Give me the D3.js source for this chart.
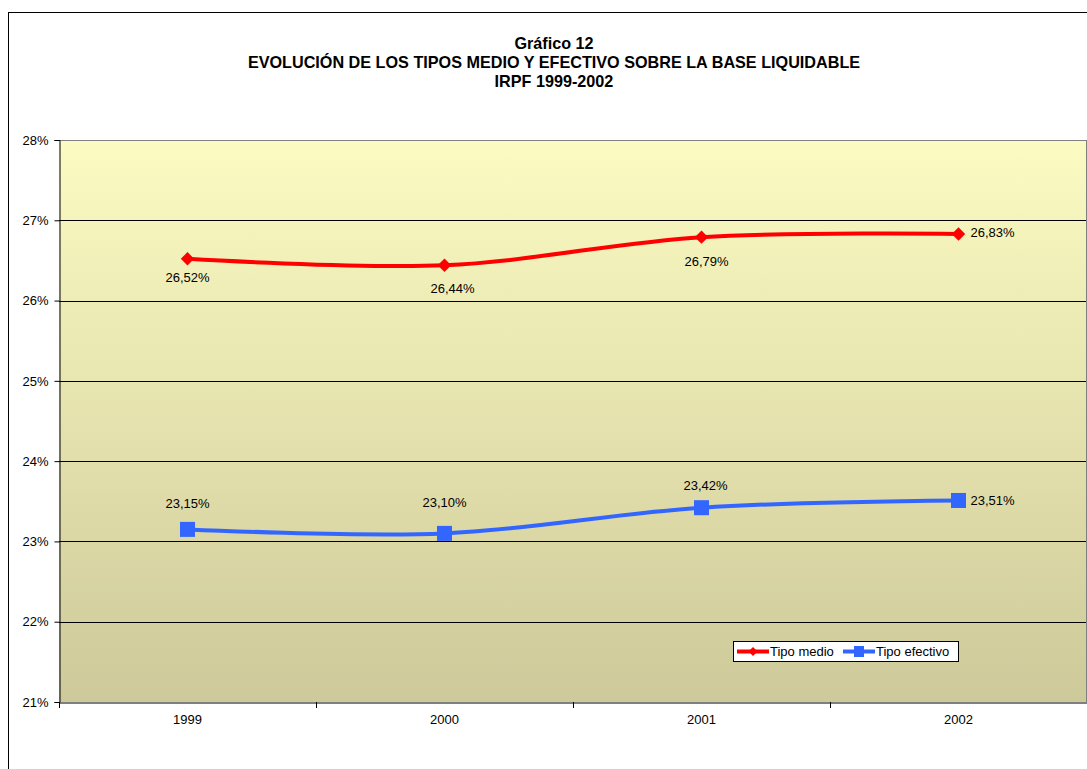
<!DOCTYPE html>
<html><head><meta charset="utf-8">
<script src="https://cdn.jsdelivr.net/npm/d3@7"></script>
<style>body{margin:0;background:#fff}svg{display:block;font-family:"Liberation Sans",Arial,sans-serif}</style>
</head><body><svg id="c" width="1087" height="769"></svg>
<script>
const years = ["1999","2000","2001","2002"];
const tipoMedio = [26.52, 26.44, 26.79, 26.83];
const tipoEfectivo = [23.15, 23.10, 23.42, 23.51];
const medioLabels = ["26,52%","26,44%","26,79%","26,83%"];
const efectivoLabels = ["23,15%","23,10%","23,42%","23,51%"];
const yTicks = [21,22,23,24,25,26,27,28];
const titleLines = ["Gráfico 12","EVOLUCIÓN DE LOS TIPOS MEDIO Y EFECTIVO SOBRE LA BASE LIQUIDABLE","IRPF 1999-2002"];

const svg = d3.select("#c");
const L=59, R=1087, T=140, B=702;
const x = d3.scaleBand().domain(years).range([L,R]).padding(0);
const y = d3.scaleLinear().domain([21,28]).range([B,T]);
const FONT = "Liberation Sans, Arial, sans-serif";

// outer border
svg.append("rect").attr("x",8.5).attr("y",12.5).attr("width",1090).attr("height",800).attr("fill","none").attr("stroke","#000").attr("stroke-width",1);

// gradient
const defs = svg.append("defs");
const g = defs.append("linearGradient").attr("id","bg").attr("x1",0).attr("y1",0).attr("x2",0).attr("y2",1);
g.append("stop").attr("offset","0%").attr("stop-color","#fcfbc2");
g.append("stop").attr("offset","100%").attr("stop-color","#cdc99a");
svg.append("rect").attr("x",L).attr("y",T).attr("width",R-L).attr("height",B-T).attr("fill","url(#bg)");

// gridlines
svg.append("g").selectAll("line").data(yTicks.filter(d=>d>21&&d<28)).join("line")
  .attr("x1",L).attr("x2",R).attr("y1",d=>Math.round(y(d))+0.5).attr("y2",d=>Math.round(y(d))+0.5)
  .attr("stroke","#000").attr("stroke-width",1);
// top & right border gray
svg.append("line").attr("x1",L).attr("x2",R).attr("y1",T+0.5).attr("y2",T+0.5).attr("stroke","#808080");
svg.append("line").attr("x1",R-0.5).attr("x2",R-0.5).attr("y1",T).attr("y2",B).attr("stroke","#808080");

// y axis
const ya = svg.append("g").attr("transform",`translate(${L+0.5},0)`)
  .call(d3.axisLeft(y).tickValues(yTicks).tickSize(5).tickPadding(6).tickFormat(d=>d+"%"));
ya.select(".domain").attr("stroke","#000");
ya.selectAll("text").attr("font-size",13).attr("fill","#000").attr("font-family",FONT);
ya.selectAll(".tick line").attr("stroke","#000");

// x axis
const xa = svg.append("g").attr("transform",`translate(0,${B+0.5})`)
  .call(d3.axisBottom(x).tickSize(0).tickPadding(12));
xa.select(".domain").attr("stroke","#000");
xa.selectAll("text").attr("font-size",13).attr("fill","#000").attr("font-family",FONT);
svg.append("g").selectAll("line").data(years.concat(["end"])).join("line")
  .attr("x1",(d,i)=>Math.round(L+i*x.bandwidth())+0.5).attr("x2",(d,i)=>Math.round(L+i*x.bandwidth())+0.5)
  .attr("y1",B).attr("y2",B+6).attr("stroke","#000");

const cx = d=>x(d)+x.bandwidth()/2;
const line = d3.line().x((d,i)=>cx(years[i])).y(d=>y(d)).curve(d3.curveCatmullRom.alpha(0));

const red="#ff0000", blue="#3366ff";
svg.append("path").datum(tipoMedio).attr("d",line).attr("fill","none").attr("stroke",red).attr("stroke-width",4);
svg.append("path").datum(tipoEfectivo).attr("d",line).attr("fill","none").attr("stroke",blue).attr("stroke-width",4);

svg.append("g").selectAll("path").data(tipoMedio).join("path")
  .attr("d",d3.symbol(d3.symbolSquare,90)).attr("fill",red)
  .attr("transform",(d,i)=>`translate(${cx(years[i])},${y(d)}) rotate(45)`);
svg.append("g").selectAll("rect").data(tipoEfectivo).join("rect")
  .attr("x",(d,i)=>cx(years[i])-7.5).attr("y",d=>y(d)-7.5).attr("width",15).attr("height",15).attr("fill",blue);

// data labels
const medioOff = [[0,19],[8,23],[5,24],[34,-1]];
const efOff = [[0,-26],[0,-31],[4,-22],[34,0]];
const lab = (vals,labels,offs)=>svg.append("g").selectAll("text").data(vals).join("text")
  .attr("x",(d,i)=>cx(years[i])+offs[i][0]).attr("y",(d,i)=>y(d)+offs[i][1]).attr("dy","0.35em")
  .attr("text-anchor","middle").attr("font-size",13).attr("fill","#000").text((d,i)=>labels[i]);
lab(tipoMedio,medioLabels,medioOff);
lab(tipoEfectivo,efectivoLabels,efOff);

// title
svg.append("g").selectAll("text").data(titleLines).join("text")
  .attr("x",554).attr("y",(d,i)=>49+i*19).attr("text-anchor","middle")
  .attr("font-size",16.2).attr("font-weight","bold").attr("fill","#000").text(d=>d);

// legend
const lg = svg.append("g");
lg.append("rect").attr("x",733.5).attr("y",641.5).attr("width",225).attr("height",20).attr("fill","#fff").attr("stroke","#000");
const items=[{n:"Tipo medio",c:red,s:"d",x:737},{n:"Tipo efectivo",c:blue,s:"s",x:843}];
items.forEach(it=>{
  lg.append("line").attr("x1",it.x).attr("x2",it.x+32).attr("y1",651.5).attr("y2",651.5).attr("stroke",it.c).attr("stroke-width",4);
  if(it.s==="d") lg.append("path").attr("d",d3.symbol(d3.symbolSquare,40)).attr("fill",it.c).attr("transform",`translate(${it.x+16},651.5) rotate(45)`);
  else lg.append("rect").attr("x",it.x+11).attr("y",646).attr("width",10).attr("height",11).attr("fill",it.c);
  lg.append("text").attr("x",it.x+33).attr("y",651.5).attr("dy","0.35em").attr("font-size",13).attr("fill","#000").text(it.n);
});
</script></body></html>
